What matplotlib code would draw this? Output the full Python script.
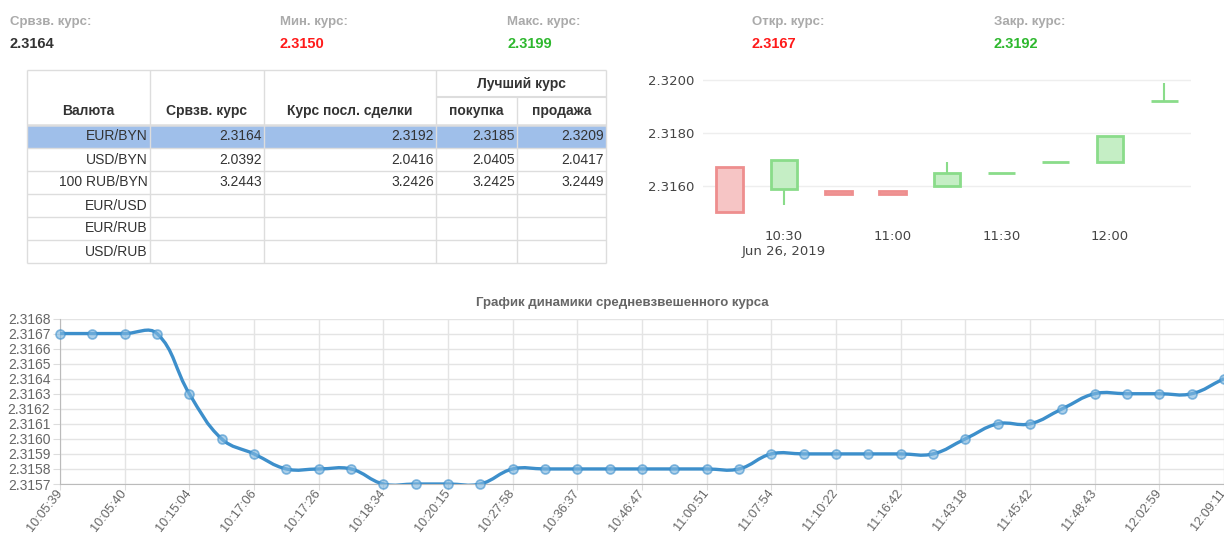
import numpy as np
import matplotlib.pyplot as plt
from matplotlib.path import Path
from matplotlib.patches import PathPatch, Rectangle

plt.rcParams['font.family'] = ['Liberation Sans', 'DejaVu Sans']

W, H = 1224, 534

# шапка с итоговыми курсами
head_labels = ["Срвзв. курс:", "Мин. курс:", "Макс. курс:", "Откр. курс:", "Закр. курс:"]
head_values = ["2.3164", "2.3150", "2.3199", "2.3167", "2.3192"]
head_colors = ["#333333", "#ff1a1a", "#2eb82e", "#ff1a1a", "#2eb82e"]

# таблица
tbl_cols = ["Валюта", "Срвзв. курс", "Курс посл. сделки", "покупка", "продажа"]
tbl_group = "Лучший курс"
tbl_pairs = ["EUR/BYN", "USD/BYN", "100 RUB/BYN", "EUR/USD", "EUR/RUB", "USD/RUB"]
tbl_avg = ["2.3164", "2.0392", "3.2443", "", "", ""]
tbl_last = ["2.3192", "2.0416", "3.2426", "", "", ""]
tbl_buy = ["2.3185", "2.0405", "3.2425", "", "", ""]
tbl_sell = ["2.3209", "2.0417", "3.2449", "", "", ""]

# свечи по 15 минут
candle_time = ["10:15", "10:30", "10:45", "11:00", "11:15", "11:30", "11:45", "12:00", "12:15"]
candle_open = [2.3167, 2.3159, 2.3158, 2.3158, 2.3160, 2.3165, 2.3169, 2.3169, 2.3192]
candle_close = [2.3150, 2.3170, 2.3157, 2.3157, 2.3165, 2.3165, 2.3169, 2.3179, 2.3192]
candle_high = [2.3167, 2.3170, 2.3158, 2.3158, 2.3169, 2.3165, 2.3169, 2.3179, 2.3199]
candle_low = [2.3150, 2.3153, 2.3157, 2.3157, 2.3160, 2.3165, 2.3169, 2.3169, 2.3192]
candle_ticks = ["10:30", "11:00", "11:30", "12:00"]
candle_date = "Jun 26, 2019"

# динамика средневзвешенного курса
rate = [2.3167, 2.3167, 2.3167, 2.3167, 2.3163, 2.3160, 2.3159, 2.3158, 2.3158, 2.3158,
        2.3157, 2.3157, 2.3157, 2.3157, 2.3158, 2.3158, 2.3158, 2.3158, 2.3158, 2.3158,
        2.3158, 2.3158, 2.3159, 2.3159, 2.3159, 2.3159, 2.3159, 2.3159, 2.3160, 2.3161,
        2.3161, 2.3162, 2.3163, 2.3163, 2.3163, 2.3163, 2.3164]
rate_labels = ["10:05:39", "10:05:40", "10:15:04", "10:17:06", "10:17:26", "10:18:34",
               "10:20:15", "10:27:58", "10:36:37", "10:46:47", "11:00:51", "11:07:54",
               "11:10:22", "11:16:42", "11:43:18", "11:45:42", "11:48:43", "12:02:59",
               "12:09:11"]


def box(x0, y0, x1, y1):
    # пиксели -> доли фигуры
    return [x0 / W, 1 - y1 / H, (x1 - x0) / W, (y1 - y0) / H]


fig = plt.figure(figsize=(W / 100, H / 100), dpi=100)
fig.patch.set_facecolor("white")

# фон для текста и таблицы в пикселях
bg = fig.add_axes([0, 0, 1, 1])
bg.set_xlim(0, W)
bg.set_ylim(H, 0)
bg.axis("off")

head_x = [10, 280, 507, 752, 994]
for x, lab, val, col in zip(head_x, head_labels, head_values, head_colors):
    bg.text(x, 22, lab, fontsize=9.5, color="#aaaaaa", fontweight="bold", va="center")
    bg.text(x, 44, val, fontsize=10.5, color=col, fontweight="bold", va="center")

col_edges = [27, 150, 264, 436, 517, 606]
row_edges = [125, 148, 171, 194, 217, 240, 263]
line_c = "#dddddd"
bg.add_patch(Rectangle((col_edges[0], row_edges[0]), col_edges[-1] - col_edges[0],
                       row_edges[1] - row_edges[0], color="#9fbfea", lw=0))
bg.hlines(70, col_edges[0], col_edges[-1], color=line_c, lw=1)
bg.hlines(97, col_edges[3], col_edges[-1], color=line_c, lw=1.5)
bg.hlines(row_edges[0], col_edges[0], col_edges[-1], color=line_c, lw=1.8)
bg.hlines(row_edges[1:], col_edges[0], col_edges[-1], color=line_c, lw=1)
bg.vlines([col_edges[0], col_edges[1], col_edges[2], col_edges[3], col_edges[5]], 70, 263, color=line_c, lw=1)
bg.vlines(col_edges[4], 97, 263, color=line_c, lw=1)

for i, name in enumerate(tbl_cols):
    cx = (col_edges[i] + col_edges[i + 1]) / 2
    bg.text(cx, 111, name, fontsize=10, fontweight="bold", color="#333333", ha="center", va="center")
bg.text((col_edges[3] + col_edges[5]) / 2, 84, tbl_group, fontsize=10, fontweight="bold",
        color="#333333", ha="center", va="center")

for r, cells in enumerate(zip(tbl_pairs, tbl_avg, tbl_last, tbl_buy, tbl_sell)):
    cy = (row_edges[r] + row_edges[r + 1]) / 2
    for c, txt in enumerate(cells):
        bg.text(col_edges[c + 1] - 2, cy, txt, fontsize=10, color="#333333", ha="right", va="center")

# свечной график
ax1 = fig.add_axes(box(703, 70, 1191, 222))
t_min = [int(s[:2]) * 60 + int(s[3:]) - 600 for s in candle_time]
for t, o, c, hi, lo in zip(t_min, candle_open, candle_close, candle_high, candle_low):
    up = c >= o
    face = "#c5eec5" if up else "#f6c5c5"
    edge = "#8adc8a" if up else "#ee8e8e"
    ax1.vlines(t, lo, hi, color=edge, lw=1.5, zorder=2)
    ax1.bar(t, c - o, bottom=o, width=7.4, color=face, edgecolor=edge, linewidth=2, zorder=3)
ax1.set_xlim(7.6, 142.4)
ax1.set_ylim(2.31464, 2.32038)
ax1.set_yticks([2.3160, 2.3180, 2.3200])
ax1.yaxis.set_major_formatter(plt.FuncFormatter(lambda v, p: f"{v:.4f}"))
tick_min = [int(s[:2]) * 60 + int(s[3:]) - 600 for s in candle_ticks]
ax1.set_xticks(tick_min)
ax1.set_xticklabels([s + ("\n" + candle_date if i == 0 else "") for i, s in enumerate(candle_ticks)])
for lab in ax1.get_xticklabels() + ax1.get_yticklabels():
    lab.set_family(["DejaVu Sans"])
ax1.tick_params(axis="both", length=0, labelsize=9.5, colors="#444444")
ax1.tick_params(axis="y", pad=6)
ax1.tick_params(axis="x", pad=6)
ax1.grid(axis="y", color="#eeeeee", lw=1)
ax1.set_axisbelow(True)
for s in ax1.spines.values():
    s.set_visible(False)

# линия средневзвешенного курса
ax2 = fig.add_axes(box(60, 318.5, 1224, 484))
n = len(rate)
xs = np.arange(n)
ys = np.array(rate)
ax2.set_xlim(0, n - 1)
ax2.set_ylim(2.3157, 2.3168)

# сглаживание как в Chart.js (tension 0.4), считается в пикселях
sx = (1224 - 60) / (n - 1)
sy = (484 - 318.5) / 0.0011
px = xs * sx
py = ys * sy
verts = [(px[0], py[0])]
codes = [Path.MOVETO]
t = 0.4
cp_prev, cp_next = [], []
for i in range(n):
    p0 = i - 1 if i > 0 else i
    p2 = i + 1 if i < n - 1 else i
    d01 = np.hypot(px[i] - px[p0], py[i] - py[p0])
    d12 = np.hypot(px[p2] - px[i], py[p2] - py[i])
    s01 = d01 / (d01 + d12)
    s12 = d12 / (d01 + d12)
    cp_prev.append((px[i] - t * s01 * (px[p2] - px[p0]), py[i] - t * s01 * (py[p2] - py[p0])))
    cp_next.append((px[i] + t * s12 * (px[p2] - px[p0]), py[i] + t * s12 * (py[p2] - py[p0])))
for i in range(1, n):
    verts += [cp_next[i - 1], cp_prev[i], (px[i], py[i])]
    codes += [Path.CURVE4] * 3
verts = np.array(verts)
verts[:, 0] /= sx
verts[:, 1] /= sy
ax2.add_patch(PathPatch(Path(verts, codes), fill=False, edgecolor="#3d8fcb", lw=2.4, zorder=3))
ax2.plot(xs, ys, "o", ms=6.5, mfc=(0.5, 0.72, 0.88, 0.65), mec=(0.24, 0.56, 0.8, 0.6),
         mew=1.2, zorder=4, clip_on=False)

ax2.set_yticks(np.round(np.arange(2.3157, 2.31685, 0.0001), 4))
ax2.yaxis.set_major_formatter(plt.FuncFormatter(lambda v, p: f"{v:.4f}"))
ax2.set_xticks(xs[::2])
ax2.set_xticklabels(rate_labels, rotation=52, ha="right", va="center", rotation_mode="anchor")
ax2.tick_params(axis="y", labelsize=10, colors="#dddddd", labelcolor="#666666", length=5, pad=2)
ax2.tick_params(axis="x", labelsize=9.2, colors="#dddddd", labelcolor="#666666", length=4, pad=1)
ax2.grid(axis="both", color="#e4e4e4", lw=1)
ax2.set_axisbelow(True)
ax2.spines["top"].set_visible(False)
ax2.spines["right"].set_visible(False)
ax2.spines["left"].set_color("#bbbbbb")
ax2.spines["bottom"].set_color("#bbbbbb")
ax2.set_title("График динамики средневзвешенного курса", fontsize=9.5, fontweight="bold",
              color="#666666", pad=9, x=(622 - 60) / (1224 - 60))

fig.savefig("out.png", dpi=100)
